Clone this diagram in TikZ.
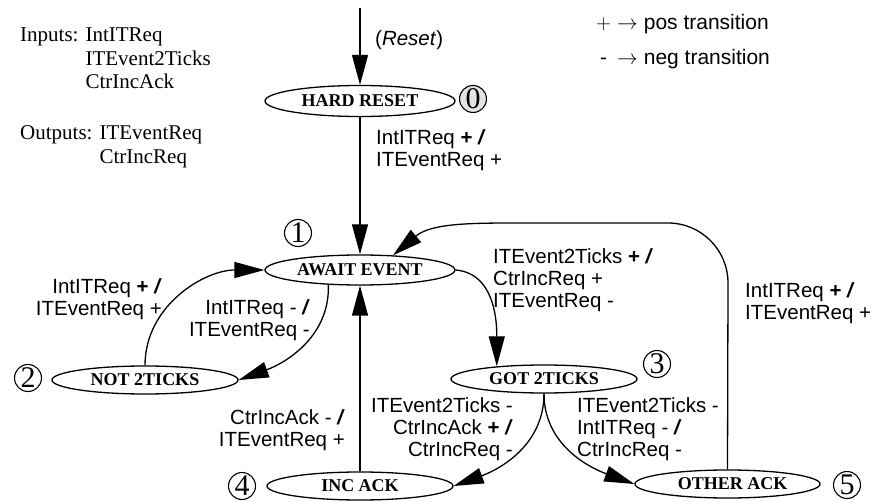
\documentclass[tikz,border=0pt]{standalone}
\usepackage{fontspec}
\setmainfont{Liberation Serif}
\setsansfont{Liberation Sans}
\usetikzlibrary{arrows.meta,shapes.geometric}
\begin{document}
\begin{tikzpicture}[x=1pt,y=1pt,
  every node/.style={inner sep=0pt},
  state/.style={ellipse, draw, line width=1.3pt, minimum width=186pt, minimum height=28pt},
  statetext/.style={font=\fontsize{18}{20}\selectfont\bfseries},
  num/.style={circle, draw, line width=1.1pt, minimum size=27pt, font=\fontsize{30}{30}\selectfont},
  lbl/.style={font=\sffamily\fontsize{20.5}{22}\selectfont},
  info/.style={font=\fontsize{21}{23.5}\selectfont, align=left},
  edge/.style={line width=1.3pt, -{Triangle[length=30pt,width=16pt]}}
]
\useasboundingbox (0,0) rectangle (875,-502);

% signal list
\node[info, anchor=west] (inputs) at (20,-60.5)
  {Inputs: IntITReq\\\phantom{Inputs: }ITEvent2Ticks\\\phantom{Inputs: }CtrIncAck};
\node[info, anchor=west] (outputs) at (20,-147)
  {Outputs: ITEventReq\\\phantom{Outputs: }CtrIncReq};

% legend
\node[font=\sffamily\fontsize{21}{23.5}\selectfont, anchor=base west] (legend) at (596,-29.3)
  {\begin{tabular}[t]{@{}c@{\hspace{6pt}}c@{\hspace{6pt}}l@{}}
   $+$ & $\rightarrow$ & pos transition\\[12pt]
   - & $\rightarrow$ & neg transition
   \end{tabular}};

% states
\node[state, minimum width=190pt, minimum height=31pt] (hard) at (360,-101) {};
\node[statetext] (hardtxt) at (hard) {HARD RESET};
\node[state, minimum width=190pt, minimum height=30pt] (await) at (360,-270) {};
\node[statetext] (awaittxt) at (await) {AWAIT EVENT};
\node[state] (notT) at (145,-380) {};
\node[statetext] (notTtxt) at (notT) {NOT 2TICKS};
\node[state] (got) at (544,-379) {};
\node[statetext] (gottxt) at (got) {GOT 2TICKS};
\node[state] (inc) at (360,-486) {};
\node[statetext] (inctxt) at (inc) {INC ACK};
\node[state, minimum width=185pt] (other) at (727.5,-484) {};
\node[statetext] (othertxt) at ([xshift=5pt]other.center) {OTHER ACK};

% state numbers
\node[num, fill=gray!22] (c0) at (473,-99) {0};
\node[num] (c1) at (298,-233) {1};
\node[num] (c2) at (28,-378) {2};
\node[num] (c3) at (657,-364) {3};
\node[num] (c4) at (242,-486) {4};
\node[num] (c5) at (847,-485) {5};

% transitions
\coordinate (rst) at (360,-8);
\draw[edge] (rst) -- (hard.north);
\node[lbl, anchor=west] (rsttxt) at (375,-40) {(\textit{Reset})};

\draw[edge] (hard.south) -- (await.north);
\node[lbl, anchor=west, align=left] (l0) at (376,-150)
  {IntITReq \textbf{+ \textit{/}}\\ITEventReq +};

\draw[edge] (notT.north) to[out=90,in=180] (await.west);
\node[lbl, anchor=east, align=right] (l1) at (162,-299)
  {IntITReq \textbf{+ \textit{/}}\\ITEventReq +};

\draw[edge] (await.205) to[out=-88,in=20] (notT.east);
\node[lbl, anchor=east, align=right] (l2) at (310,-320)
  {IntITReq - \textbf{\textit{/}}\\ITEventReq -};

\draw[edge] (await.east) to[out=-5,in=90] (got.165);
\node[lbl, anchor=west, align=left] (l3) at (493,-280)
  {ITEvent2Ticks \textbf{+ \textit{/}}\\CtrIncReq +\\ITEventReq -};

\coordinate (lp1) at (728,-283);
\coordinate (lp2) at (513,-223);
\draw[edge] (other.north) -- (lp1) arc[start angle=0,end angle=90,radius=60]
  -- (lp2) to[out=180,in=40] (await.24);
\node[lbl, anchor=west, align=left] (l4) at (745,-303)
  {IntITReq \textbf{+ \textit{/}}\\ITEventReq +};

\draw[edge] (inc.north) -- (await.south);
\node[lbl, anchor=east, align=right] (l5) at (345,-430)
  {CtrIncAck - \textbf{\textit{/}}\\ITEventReq +};

\draw[edge] (got.south) to[out=-90,in=20] (inc.east);
\node[lbl, anchor=east, align=right] (l6) at (513,-429)
  {ITEvent2Ticks -\\CtrIncAck \textbf{+ \textit{/}}\\CtrIncReq -};

\draw[edge] (got.south) to[out=-90,in=160] (other.west);
\node[lbl, anchor=west, align=left] (l7) at (577,-429)
  {ITEvent2Ticks -\\IntITReq - \textbf{\textit{/}}\\CtrIncReq -};
\end{tikzpicture}
\end{document}
